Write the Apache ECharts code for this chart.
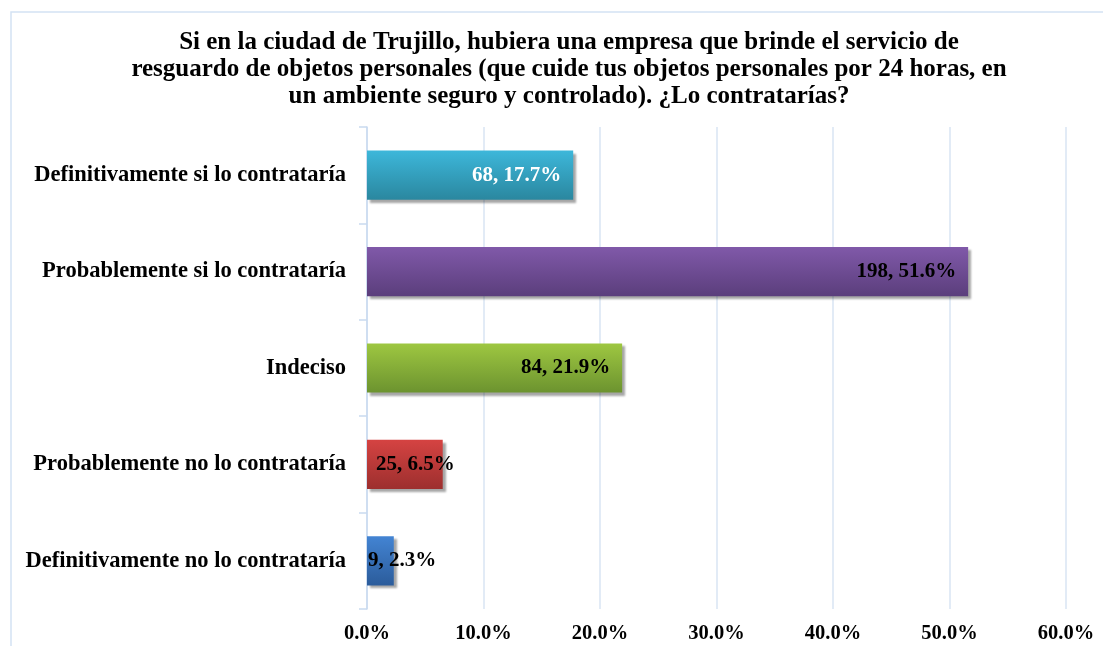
<!DOCTYPE html>
<html>
<head>
<meta charset="utf-8">
<script src="https://cdn.jsdelivr.net/npm/echarts@6/dist/echarts.min.js"></script>
<style>
html,body{margin:0;padding:0;background:#fff;}
#main{width:1103px;height:646px;}
</style>
</head>
<body>
<div id="main"></div>
<script>
// datos del grafico
var categorias = ['Definitivamente si lo contrataría','Probablemente si lo contrataría','Indeciso','Probablemente no lo contrataría','Definitivamente no lo contrataría'];
var porcentajes = [17.7, 51.6, 21.9, 6.5, 2.3];
var cantidades = [68, 198, 84, 25, 9];
var ticksX = [0, 10, 20, 30, 40, 50, 60];

var colores = [
	['#3db7da', '#2a879f'],
	['#8059a9', '#5b3e7c'],
	['#9ec741', '#6c932f'],
	['#d54342', '#9d2f2e'],
	['#4384d3', '#2b5c9b']
];

var fuente = '"Liberation Serif", "Times New Roman", serif';

var datos = [];
for (var i = 0; i < porcentajes.length; i++) {
	var label = {
		show: true,
		position: 'insideRight',
		distance: 12,
		color: i === 0 ? '#ffffff' : '#000000'
	};
	// barras cortas: la etiqueta se sale de la barra
	if (porcentajes[i] < 10) {
		label.position = 'insideLeft';
		label.distance = porcentajes[i] < 5 ? 1 : 9;
	}
	datos.push({
		value: porcentajes[i],
		cantidad: cantidades[i],
		label: label,
		itemStyle: {
			color: new echarts.graphic.LinearGradient(0, 0, 0, 1, [
				{offset: 0, color: colores[i][0]},
				{offset: 1, color: colores[i][1]}
			])
		}
	});
}

var myChart = echarts.init(document.getElementById('main'));
var option = {
	animation: false,
	title: {
		text: 'Si en la ciudad de Trujillo, hubiera una empresa que brinde el servicio de\nresguardo de objetos personales (que cuide tus objetos personales por 24 horas, en\nun ambiente seguro y controlado). ¿Lo contratarías?',
		left: 564,
		textAlign: 'center',
		top: 24,
		textStyle: {
			fontFamily: fuente,
			fontWeight: 'bold',
			fontSize: 25,
			lineHeight: 27,
			color: '#000'
		}
	},
	graphic: [{
		type: 'rect',
		shape: {x: 11, y: 12, width: 1200, height: 700},
		style: {fill: 'none', stroke: '#d3e2f4', lineWidth: 1.5},
		silent: true
	}],
	grid: {
		left: 367,
		right: 37,
		top: 127,
		bottom: 37
	},
	xAxis: {
		type: 'value',
		min: 0,
		max: 60,
		interval: 10,
		axisLine: {show: false},
		axisTick: {show: false},
		splitLine: {lineStyle: {color: '#d9e4f3', width: 1.5}},
		axisLabel: {
			margin: 14,
			fontFamily: fuente,
			fontWeight: 'bold',
			fontSize: 20.5,
			color: '#000',
			formatter: function (v) { return v.toFixed(1) + '%'; }
		}
	},
	yAxis: {
		type: 'category',
		inverse: true,
		data: categorias,
		axisLine: {lineStyle: {color: '#c9daef', width: 1.5}},
		axisTick: {show: true, length: 8, lineStyle: {color: '#c9daef', width: 1.5}},
		axisLabel: {
			margin: 21,
			fontFamily: fuente,
			fontWeight: 'bold',
			fontSize: 22.5,
			color: '#000'
		}
	},
	series: [{
		type: 'bar',
		barCategoryGap: '49%',
		data: datos,
		itemStyle: {
			shadowColor: 'rgba(0,0,0,0.35)',
			shadowBlur: 2,
			shadowOffsetX: 3,
			shadowOffsetY: 3
		},
		label: {
			fontFamily: fuente,
			fontWeight: 'bold',
			fontSize: 21,
			formatter: function (p) {
				return p.data.cantidad + ', ' + p.value.toFixed(1) + '%';
			}
		}
	}]
};
myChart.setOption(option);
</script>
</body>
</html>
